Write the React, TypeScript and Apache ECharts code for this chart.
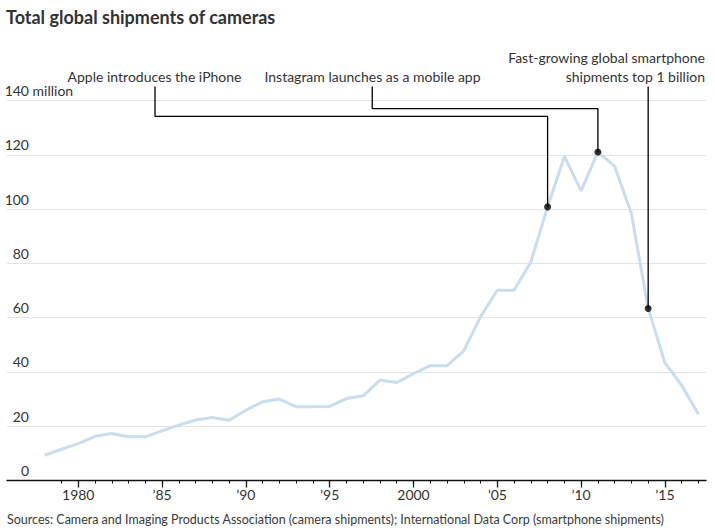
import React, { useEffect, useRef } from "react";
import * as echarts from "echarts";

const years = [
  1978, 1979, 1980, 1981, 1982, 1983, 1984, 1985, 1986, 1987, 1988, 1989,
  1990, 1991, 1992, 1993, 1994, 1995, 1996, 1997, 1998, 1999, 2000, 2001,
  2002, 2003, 2004, 2005, 2006, 2007, 2008, 2009, 2010, 2011, 2012, 2013,
  2014, 2015, 2016, 2017,
];
const shipments = [
  9.3, 11.5, 13.6, 16.3, 17.3, 16.1, 16.1, 18.3, 20.4, 22.3, 23.2, 22.2,
  25.9, 29.0, 30.0, 27.2, 27.2, 27.3, 30.2, 31.2, 37.0, 36.1, 39.4, 42.3,
  42.3, 47.8, 60.3, 70.1, 70.1, 80.5, 100.8, 119.4, 106.7, 121.0, 115.8, 98.3,
  63.4, 43.3, 35.1, 24.4,
];
const majorTicks = [1980, 1985, 1990, 1995, 2000, 2005, 2010, 2015];
const majorLabels = ["1980", "\u201985", "\u201990", "\u201995", "2000", "\u201905", "\u201910", "\u201915"];
const minorTicks = years.slice(1);
const yTicks = [0, 20, 40, 60, 80, 100, 120, 140];

// annotations: event year, leader elbow (x in years, y in millions), top of leader
const annYears = [2008, 2011, 2014];
const annElbowX = [1984.58, 1997.54, 2014];
const annElbowY = [134.15, 137.0, 145.2];
const annTopY = 145.2;
const annTexts = [
  "Apple introduces the iPhone",
  "Instagram launches as a mobile app",
  "Fast-growing global smartphone\nshipments top 1 billion",
];

const FONT = "Lato, 'Noto Sans', sans-serif";
const TEXT = "#333333";

export default function App() {
  const ref = useRef<HTMLDivElement>(null);
  useEffect(() => {
    const chart = echarts.init(ref.current!, null, { renderer: "svg" });
    const valueOf = (y: number) => shipments[years.indexOf(y)];
    const leaderSeries = annYears.map((y, i) => {
      const v = valueOf(y);
      const pts =
        annElbowX[i] === y
          ? [[y, v], [y, annTopY]]
          : [[y, v], [y, annElbowY[i]], [annElbowX[i], annElbowY[i]], [annElbowX[i], annTopY]];
      return {
        type: "line",
        data: pts,
        xAxisIndex: 0,
        yAxisIndex: 0,
        symbol: "none",
        clip: false,
        silent: true,
        z: 3,
        lineStyle: { color: "#000", width: 1.3 },
      };
    });
    const yLabelBase = {
      inside: true,
      verticalAlign: "bottom",
      margin: 22,
      fontSize: 14,
      lineHeight: 14,
      padding: [0, 0, 3, 0],
      color: TEXT,
      fontFamily: FONT,
    };
    chart.setOption({
      animation: false,
      backgroundColor: "#fff",
      textStyle: { fontFamily: FONT },
      title: {
        text: "Total global shipments of cameras",
        left: 1,
        top: 3,
        textStyle: { fontSize: 18, fontWeight: "bold", color: TEXT, fontFamily: FONT },
      },
      grid: { left: 7, right: 9, top: 100.5, bottom: 49.5, containLabel: false, outerBoundsMode: "none" },
      xAxis: [
        {
          type: "value",
          min: 1975.75,
          max: 2017.45,
          splitLine: { show: false },
          axisLine: { show: true, lineStyle: { color: "#111", width: 1.3 } },
          axisTick: { show: true, customValues: majorTicks, length: 7, lineStyle: { color: "#111", width: 1.3 } },
          axisLabel: {
            customValues: majorTicks,
            formatter: (v: number) => majorLabels[majorTicks.indexOf(v)] ?? "",
            fontSize: 14,
            color: TEXT,
            margin: 7,
            fontFamily: FONT,
          },
        },
        {
          type: "value",
          min: 1975.75,
          max: 2017.45,
          position: "bottom",
          splitLine: { show: false },
          axisLine: { show: false },
          axisTick: { show: true, customValues: minorTicks, length: 3, lineStyle: { color: "#111", width: 1 } },
          axisLabel: { show: false },
        },
      ],
      yAxis: [
        {
          type: "value",
          position: "left",
          min: 0,
          max: 140,
          interval: 20,
          axisLine: { show: false },
          axisTick: { show: false },
          splitLine: { show: true, lineStyle: { color: "#e3e3e3", width: 1 } },
          axisLabel: {
            ...yLabelBase,
            align: "right",
            formatter: (v: number) => (yTicks.includes(v) ? String(v) : ""),
          },
        },
        {
          type: "value",
          position: "left",
          offset: 0,
          min: 0,
          max: 140,
          interval: 20,
          axisLine: { show: false },
          axisTick: { show: false },
          splitLine: { show: false },
          axisLabel: {
            ...yLabelBase,
            align: "left",
            formatter: (v: number) => (v === 140 ? " million" : ""),
          },
        },
      ],
      series: [
        {
          type: "line",
          name: "Cameras",
          data: years.map((y, i) => [y, shipments[i]]),
          xAxisIndex: 0,
          yAxisIndex: 0,
          symbol: "none",
          z: 2,
          lineStyle: { color: "#c9ddee", width: 3 },
        },
        ...leaderSeries,
        {
          type: "scatter",
          data: annYears.map((y) => [y, valueOf(y)]),
          xAxisIndex: 0,
          yAxisIndex: 0,
          symbolSize: 7,
          z: 4,
          itemStyle: { color: "#000" },
          silent: true,
        },
      ],
      graphic: [
        {
          type: "text",
          x: 154.5,
          y: 76,
          style: { text: annTexts[0], fontSize: 14, fill: TEXT, align: "center", verticalAlign: "middle", fontFamily: FONT },
        },
        {
          type: "text",
          x: 372.5,
          y: 76,
          style: { text: annTexts[1], fontSize: 14, fill: TEXT, align: "center", verticalAlign: "middle", fontFamily: FONT },
        },
        {
          type: "text",
          x: 705,
          y: 66.5,
          style: { text: annTexts[2], fontSize: 14, lineHeight: 19, fill: TEXT, align: "right", verticalAlign: "middle", fontFamily: FONT },
        },
        {
          type: "text",
          x: 7,
          y: 519.5,
          style: {
            text: "Sources: Camera and Imaging Products Association (camera shipments); International Data Corp (smartphone shipments)",
            fontSize: 12.5,
            fill: "#3a3a3a",
            align: "left",
            verticalAlign: "middle",
            fontFamily: FONT,
          },
        },
      ],
    });
    return () => chart.dispose();
  }, []);
  return <div ref={ref} style={{ width: 715, height: 530, position: "absolute", left: 0, top: 0 }} />;
}
